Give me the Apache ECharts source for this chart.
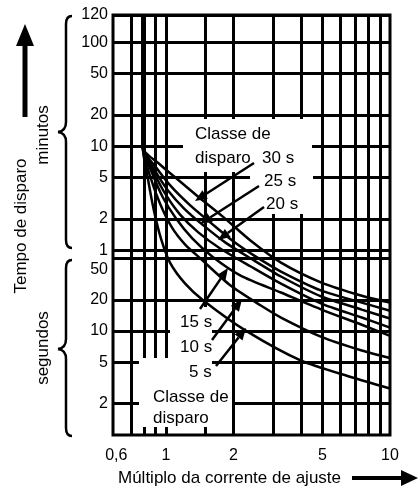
<!DOCTYPE html>
<html lang="pt">
<head>
<meta charset="utf-8">
<title>Curvas de disparo</title>
<script src="https://cdn.jsdelivr.net/npm/echarts@6.0.0/dist/echarts.min.js"></script>
<style>
  html, body { margin: 0; padding: 0; background: #fff; }
  #graph { width: 418px; height: 492px; }
</style>
</head>
<body>
<div id="graph"></div>
<script>
// eixo x: multiplo da corrente de ajuste (log)
var xTicks = [0.6, 1, 2, 5, 10];
var xGridLines = [0.7, 0.8, 0.9, 1, 1.5, 2, 3, 4, 5, 6, 7, 8, 9];
// eixo y em segundos: parte de baixo em s, parte de cima em min
var secTicks = [2, 5, 10, 20, 50];
var minTicks = [1, 2, 5, 10, 20, 50, 100];
var topTick = '120';

// curvas [multiplo, tempo em s]
var trip5 = [[0.788, 11000], [0.788, 585], [0.83, 294], [0.883, 145], [0.949, 78], [1.042, 45.6], [1.218, 28.6], [1.468, 19.7], [2.27, 10.1], [4.01, 5.2], [6.74, 3.6], [10, 2.8]];
var trip10 = [[0.788, 11000], [0.788, 585], [0.847, 315], [0.94, 169], [1.064, 99], [1.218, 68], [1.423, 50], [1.942, 27.4], [2.651, 17.6], [3.26, 13.5], [4.94, 8.8], [7.48, 6.5], [10, 5.5]];
var trip15 = [[0.788, 11000], [0.788, 585], [0.865, 336], [0.969, 193], [1.109, 121], [1.31, 78], [1.612, 52], [2.154, 34.2], [3.26, 23.5], [4.94, 16.1], [7.48, 11.5], [10, 9.0]];
var trip20 = [[0.788, 11000], [0.788, 585], [0.874, 351], [0.99, 211], [1.156, 132], [1.394, 89], [1.751, 62], [2.39, 41.8], [3.26, 28.6], [4.94, 18.4], [7.48, 13.5], [10, 10.8]];
var trip25 = [[0.788, 11000], [0.788, 585], [0.892, 351], [1.021, 225], [1.205, 151], [1.468, 104], [1.844, 71], [2.39, 50], [3.26, 33.5], [4.94, 21.5], [7.48, 16.1], [10, 13.2]];
var trip30 = [[0.788, 11000], [0.788, 585], [0.911, 367], [1.064, 241], [1.283, 162], [1.578, 111], [1.983, 74], [2.517, 52], [3.26, 37.4], [4.94, 24.5], [7.48, 18.8], [10, 15.7]];
var tripTop = [[0.788, 11000], [0.788, 585], [0.94, 401], [1.156, 275], [1.423, 189], [1.788, 127], [2.39, 74], [3.26, 45.6], [4.94, 29.3], [7.48, 21.9], [10, 18.8]];
var curves = [trip5, trip10, trip15, trip20, trip25, trip30, tripTop];

var chart = echarts.init(document.getElementById('graph'));
var font = '"Liberation Sans", Arial, sans-serif';
var yMin = 1, yMax = 11000;

// linhas da grade + rotulos dos eixos
var lines = [];
xGridLines.forEach(function (v) {
    lines.push({ xAxis: v, label: { show: false } });
});
xTicks.forEach(function (v) {
    lines.push({ xAxis: v, lineStyle: { color: 'rgba(0,0,0,0)' },
        label: { show: true, formatter: String(v).replace('.', ','), distance: 13 } });
});
secTicks.forEach(function (v) {
    var lab = { show: true, formatter: String(v) };
    if (v === 50) { lab.formatter = '\n50'; lab.lineHeight = 22; }
    lines.push({ yAxis: v, label: lab });
});
minTicks.forEach(function (v) {
    lines.push({ yAxis: v * 60, label: { show: true, formatter: String(v) } });
});
lines.push({ yAxis: yMax, label: { show: true, formatter: topTick } });

var series = [{
    name: 'grade',
    type: 'line',
    data: [],
    z: 1,
    silent: true,
    markLine: {
        z: 1,
        silent: true,
        animation: false,
        symbol: ['none', 'none'],
        lineStyle: { color: '#000', width: 3, type: 'solid' },
        label: { position: 'start', distance: 5, color: '#000', fontSize: 16, fontFamily: font },
        data: lines
    }
}];
curves.forEach(function (c, i) {
    series.push({
        name: 'curva' + i,
        type: 'line',
        data: c,
        z: 5,
        silent: true,
        showSymbol: false,
        smooth: 0.25,
        lineStyle: { color: '#000', width: 2.5 }
    });
});

// anotacoes (posicoes em px)
var masks = [[183, 119, 129, 53], [250, 172, 63, 42], [170, 307, 42, 51], [139, 358, 73, 69], [212, 380, 20, 47]];
var notes = [
    ['Classe de', 195, 134], ['disparo', 195, 158], ['30 s', 262, 158], ['25 s', 264, 181], ['20 s', 266, 204],
    ['15 s', 180, 322], ['10 s', 180, 347], ['5 s', 189, 372], ['Classe de', 153, 397], ['disparo', 153, 418]
];
var arrows = [[254, 163, 195, 201], [259, 186, 200, 224], [264, 207, 218, 240],
    [200, 309, 228, 268], [212, 340, 242, 299], [216, 366, 246, 328]];

var graphics = [];
masks.forEach(function (m) {
    graphics.push({ type: 'rect', z: 3, silent: true,
        shape: { x: m[0], y: m[1], width: m[2], height: m[3] }, style: { fill: '#fff' } });
});
notes.forEach(function (n) {
    graphics.push({ type: 'text', z: 10, silent: true,
        style: { text: n[0], x: n[1], y: n[2], fill: '#000', font: '17px ' + font,
            textAlign: 'left', textVerticalAlign: 'middle' } });
});
function arrowHead(x1, y1, x2, y2, len, w) {
    var a = Math.atan2(y2 - y1, x2 - x1);
    var bx = x2 - len * Math.cos(a), by = y2 - len * Math.sin(a);
    var nx = -Math.sin(a) * w, ny = Math.cos(a) * w;
    return { base: [bx, by], pts: [[x2, y2], [bx + nx, by + ny], [bx - nx, by - ny]] };
}
arrows.forEach(function (a) {
    var h = arrowHead(a[0], a[1], a[2], a[3], 12, 5);
    graphics.push({ type: 'line', z: 10, silent: true,
        shape: { x1: a[0], y1: a[1], x2: h.base[0], y2: h.base[1] }, style: { stroke: '#000', lineWidth: 2.5 } });
    graphics.push({ type: 'polygon', z: 10, silent: true, shape: { points: h.pts }, style: { fill: '#000' } });
});

// chave "{" feita de linhas e curvas
function brace(x, top, mid, bottom) {
    var st = { stroke: '#000', lineWidth: 2.5, fill: null };
    var xi = x - 8, xe = x + 6;
    return [
        { type: 'bezierCurve', z: 10, silent: true, style: st,
          shape: { x1: xe, y1: top, cpx1: x, cpy1: top, x2: x, y2: top + 8 } },
        { type: 'line', z: 10, silent: true, style: st, shape: { x1: x, y1: top + 8, x2: x, y2: mid - 10 } },
        { type: 'bezierCurve', z: 10, silent: true, style: st,
          shape: { x1: x, y1: mid - 10, cpx1: x, cpy1: mid - 1, x2: xi, y2: mid } },
        { type: 'bezierCurve', z: 10, silent: true, style: st,
          shape: { x1: xi, y1: mid, cpx1: x, cpy1: mid + 1, x2: x, y2: mid + 10 } },
        { type: 'line', z: 10, silent: true, style: st, shape: { x1: x, y1: mid + 10, x2: x, y2: bottom - 8 } },
        { type: 'bezierCurve', z: 10, silent: true, style: st,
          shape: { x1: x, y1: bottom - 8, cpx1: x, cpy1: bottom, x2: xe, y2: bottom } }
    ];
}
graphics = graphics.concat(brace(66, 16, 132, 248), brace(66, 260, 349, 436));

// titulos e setas dos eixos
graphics.push(
    { type: 'text', z: 10, silent: true, x: 21, y: 226, rotation: Math.PI / 2,
      style: { text: 'Tempo de disparo', x: 0, y: 0, fill: '#000', font: '17px ' + font,
          textAlign: 'center', textVerticalAlign: 'middle' } },
    { type: 'text', z: 10, silent: true, x: 43, y: 135, rotation: Math.PI / 2,
      style: { text: 'minutos', x: 0, y: 0, fill: '#000', font: '17px ' + font,
          textAlign: 'center', textVerticalAlign: 'middle' } },
    { type: 'text', z: 10, silent: true, x: 43, y: 348, rotation: Math.PI / 2,
      style: { text: 'segundos', x: 0, y: 0, fill: '#000', font: '17px ' + font,
          textAlign: 'center', textVerticalAlign: 'middle' } },
    { type: 'line', z: 10, silent: true, shape: { x1: 25, y1: 117, x2: 25, y2: 42 },
      style: { stroke: '#000', lineWidth: 5 } },
    { type: 'polygon', z: 10, silent: true, shape: { points: [[25, 24], [16, 46], [34, 46]] },
      style: { fill: '#000' } },
    { type: 'text', z: 10, silent: true,
      style: { text: 'Múltiplo da corrente de ajuste', x: 118, y: 478, fill: '#000', font: '17px ' + font,
          textAlign: 'left', textVerticalAlign: 'middle' } },
    { type: 'line', z: 10, silent: true, shape: { x1: 352, y1: 478, x2: 404, y2: 478 },
      style: { stroke: '#000', lineWidth: 4 } },
    { type: 'polygon', z: 10, silent: true, shape: { points: [[418, 478], [401, 470], [401, 486]] },
      style: { fill: '#000' } }
);

chart.setOption({
    animation: false,
    grid: { left: 113, top: 15, width: 277, height: 420, show: true, borderColor: '#000', borderWidth: 3,
        backgroundColor: '#fff' },
    xAxis: { type: 'log', min: 0.58, max: 10,
        axisLine: { show: false }, axisTick: { show: false }, splitLine: { show: false }, axisLabel: { show: false } },
    yAxis: { type: 'log', min: yMin, max: yMax,
        axisLine: { show: false }, axisTick: { show: false }, splitLine: { show: false }, axisLabel: { show: false } },
    series: series,
    graphic: graphics
});
</script>
</body>
</html>
